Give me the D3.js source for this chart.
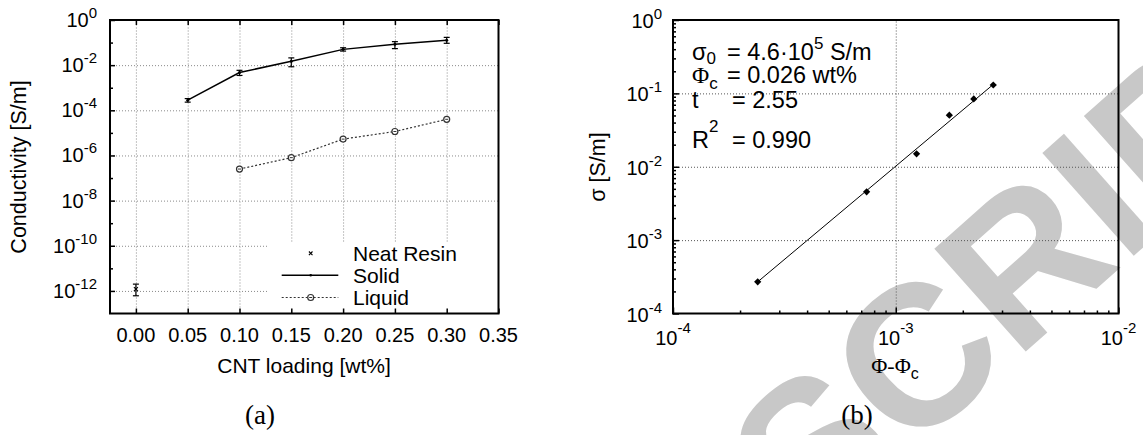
<!DOCTYPE html>
<html>
<head>
<meta charset="utf-8">
<script src="https://cdn.jsdelivr.net/npm/d3@7"></script>
<style>
  body { margin: 0; background: #fff; }
  svg text { font-family: "Liberation Sans", Arial, sans-serif; fill: #000; }
  .gridA line { stroke: #8a8a8a; stroke-dasharray: 1,2; }
  .gridB line { stroke: #555; stroke-dasharray: 1,2; }
  .grid path, .ticks path { display: none; }
  .ticks line { stroke: #000; stroke-width: 1.5; }
</style>
</head>
<body>
<svg id="fig" width="1143" height="435"></svg>
<script>
// ---- (a) conductivity vs CNT loading ----
var solidLoading = [0.05, 0.10, 0.15, 0.20, 0.25, 0.30];
var solidVal = [2.8e-4, 4.7e-3, 1.5e-2, 5.0e-2, 8.5e-2, 1.27e-1];
var solidLo  = [2.3e-4, 3.5e-3, 8.5e-3, 4.2e-2, 5.4e-2, 9.3e-2];
var solidHi  = [3.3e-4, 5.9e-3, 2.1e-2, 5.9e-2, 1.1e-1, 1.7e-1];

var liquidLoading = [0.10, 0.15, 0.20, 0.25, 0.30];
var liquidVal = [2.5e-7, 8.0e-7, 5.3e-6, 1.15e-5, 4.0e-5];

var neatLoading = [0.00];
var neatVal = [1.2e-12];
var neatLo = [6.1e-13];
var neatHi = [2.0e-12];

var xTicksA = [0.00, 0.05, 0.10, 0.15, 0.20, 0.25, 0.30, 0.35];
var yExpA = [0, -2, -4, -6, -8, -10, -12];
var yMinorExpA = [-1, -3, -5, -7, -9, -11];
var legendA = ["Neat Resin", "Solid", "Liquid"];

// ---- (b) percolation fit ----
var phiDiff = [2.4e-4, 7.4e-4, 1.24e-3, 1.74e-3, 2.24e-3, 2.74e-3];
var sigmaB  = [2.7e-4, 4.55e-3, 1.5e-2, 5.05e-2, 8.4e-2, 1.3e-1];
var fitX = [2.4e-4, 2.68e-3];
var fitY = [2.7e-4, 1.25e-1];
var xExpB = [-4, -3, -2];
var yExpB = [0, -1, -2, -3, -4];

var svg = d3.select("#fig");

// watermark behind everything
svg.append("text")
  .attr("transform", "translate(808,545) rotate(-41.6)")
  .attr("font-size", 200)
  .attr("font-weight", "bold")
  .style("fill", "#c8c8c8")
  .text("SCRIPT");

// helper: "10" with superscript exponent
function powLabel(g, x, y, exp, anchor, size, supSize, supDy) {
  var t = g.append("text")
    .attr("x", x).attr("y", y)
    .attr("text-anchor", anchor)
    .attr("font-size", size)
    .text("10");
  t.append("tspan")
    .attr("dy", supDy)
    .attr("font-size", supSize)
    .text(String(exp));
  return t;
}

// ================= panel (a) =================
var xA = d3.scaleLinear().domain([-0.025, 0.35]).range([110, 498.5]);
var yA = d3.scaleLog().domain([1e-13, 1]).range([313.5, 20]);
var gA = svg.append("g");

// grid
gA.append("g").attr("class", "grid gridA")
  .attr("transform", "translate(0,313.5)")
  .call(d3.axisBottom(xA).tickValues(xTicksA.slice(0, -1)).tickSize(-293.5).tickFormat(""));
gA.append("g").attr("class", "grid gridA")
  .attr("transform", "translate(110,0)")
  .call(d3.axisLeft(yA).tickValues(yExpA.slice(1).map(e => Math.pow(10, e))).tickSize(-388.5).tickFormat(""));

// legend box covers the grid
gA.append("rect")
  .attr("x", 268).attr("y", 243)
  .attr("width", 230).attr("height", 70)
  .attr("fill", "#fff");

var lineA = d3.line().x(d => xA(d[0])).y(d => yA(d[1]));

// liquid
var liquidData = liquidLoading.map((v, i) => [v, liquidVal[i]]);
gA.append("path")
  .datum(liquidData)
  .attr("d", lineA)
  .attr("fill", "none")
  .attr("stroke", "#333")
  .attr("stroke-width", 1.2)
  .attr("stroke-dasharray", "2,2");

function liquidMarker(g, cx, cy) {
  g.append("circle")
    .attr("cx", cx).attr("cy", cy).attr("r", 3)
    .attr("fill", "#fff").attr("stroke", "#333").attr("stroke-width", 1.2);
  g.append("line")
    .attr("x1", cx - 1.5).attr("x2", cx + 1.5)
    .attr("y1", cy).attr("y2", cy)
    .attr("stroke", "#333").attr("stroke-width", 1);
}
liquidData.forEach(d => liquidMarker(gA, xA(d[0]), yA(d[1])));

// solid
var solidData = solidLoading.map((v, i) => [v, solidVal[i]]);
gA.append("path")
  .datum(solidData)
  .attr("d", lineA)
  .attr("fill", "none")
  .attr("stroke", "#000")
  .attr("stroke-width", 1.5);

function errBar(g, x, lo, hi) {
  g.append("line").attr("x1", x).attr("x2", x).attr("y1", lo).attr("y2", hi)
    .attr("stroke", "#000").attr("stroke-width", 1.2);
  [lo, hi].forEach(y => {
    g.append("line").attr("x1", x - 3).attr("x2", x + 3).attr("y1", y).attr("y2", y)
      .attr("stroke", "#000").attr("stroke-width", 1.2);
  });
}
solidLoading.forEach((v, i) => {
  errBar(gA, xA(v), yA(solidLo[i]), yA(solidHi[i]));
  gA.append("circle").attr("cx", xA(v)).attr("cy", yA(solidVal[i])).attr("r", 1.5).attr("fill", "#000");
});

// neat resin
function crossMark(g, cx, cy, s) {
  g.append("path")
    .attr("d", `M${cx - s},${cy - s}L${cx + s},${cy + s}M${cx - s},${cy + s}L${cx + s},${cy - s}`)
    .attr("stroke", "#000").attr("stroke-width", 1.1);
}
neatLoading.forEach((v, i) => {
  errBar(gA, xA(v), yA(neatLo[i]), yA(neatHi[i]));
  crossMark(gA, xA(v), yA(neatVal[i]), 2);
});

// legend entries
var legY = [253.3, 275.3, 297.5];
legendA.forEach((name, i) => {
  gA.append("text").attr("x", 353).attr("y", legY[i] + 7.5)
    .attr("font-size", 21).text(name);
});
crossMark(gA, 310.7, legY[0], 1.8);
gA.append("line").attr("x1", 281.7).attr("x2", 338.3).attr("y1", legY[1]).attr("y2", legY[1])
  .attr("stroke", "#000").attr("stroke-width", 1.5);
gA.append("circle").attr("cx", 310.7).attr("cy", legY[1]).attr("r", 1.3).attr("fill", "#000");
gA.append("line").attr("x1", 281.7).attr("x2", 338.3).attr("y1", legY[2]).attr("y2", legY[2])
  .attr("stroke", "#333").attr("stroke-width", 1.2).attr("stroke-dasharray", "2,2");
liquidMarker(gA, 310.7, legY[2]);

// frame
gA.append("rect")
  .attr("x", 110).attr("y", 20)
  .attr("width", 388.5).attr("height", 293.5)
  .attr("fill", "none").attr("stroke", "#000").attr("stroke-width", 2);

// ticks (inward)
gA.append("g").attr("class", "ticks")
  .attr("transform", "translate(0,313.5)")
  .call(d3.axisBottom(xA).tickValues(xTicksA).tickSizeInner(-5).tickSizeOuter(0).tickFormat(""));
gA.append("g").attr("class", "ticks")
  .attr("transform", "translate(0,20)")
  .call(d3.axisTop(xA).tickValues(xTicksA).tickSizeInner(-5).tickSizeOuter(0).tickFormat(""));
gA.append("g").attr("class", "ticks")
  .attr("transform", "translate(110,0)")
  .call(d3.axisLeft(yA).tickValues(yExpA.map(e => Math.pow(10, e))).tickSizeInner(-5).tickSizeOuter(0).tickFormat(""));
gA.append("g").attr("class", "ticks")
  .attr("transform", "translate(110,0)")
  .call(d3.axisLeft(yA).tickValues(yMinorExpA.map(e => Math.pow(10, e))).tickSizeInner(-3).tickSizeOuter(0).tickFormat(""));

// tick labels
xTicksA.forEach(v => {
  gA.append("text").attr("x", xA(v)).attr("y", 342)
    .attr("text-anchor", "middle").attr("font-size", 20)
    .text(d3.format(".2f")(v));
});
yExpA.forEach(e => {
  powLabel(gA, 97, yA(Math.pow(10, e)) + 7, e, "end", 20, 15, -9);
});

// axis titles
gA.append("text").attr("x", 304).attr("y", 373)
  .attr("text-anchor", "middle").attr("font-size", 21)
  .text("CNT loading [wt%]");
gA.append("text").attr("transform", "translate(26,167) rotate(-90)")
  .attr("text-anchor", "middle").attr("font-size", 21.5)
  .text("Conductivity [S/m]");
gA.append("text").attr("x", 260).attr("y", 424)
  .attr("text-anchor", "middle").attr("font-size", 27)
  .style("font-family", "'Liberation Serif', serif")
  .text("(a)");

// ================= panel (b) =================
var xB = d3.scaleLog().domain([1e-4, 1e-2]).range([673, 1118.5]);
var yB = d3.scaleLog().domain([1e-4, 1]).range([313.5, 20]);
var gB = svg.append("g");

gB.append("g").attr("class", "grid gridB")
  .attr("transform", "translate(0,313.5)")
  .call(d3.axisBottom(xB).tickValues([1e-3]).tickSize(-293.5).tickFormat(""));
gB.append("g").attr("class", "grid gridB")
  .attr("transform", "translate(673,0)")
  .call(d3.axisLeft(yB).tickValues([1e-1, 1e-2, 1e-3]).tickSize(-445.5).tickFormat(""));

// fit line
gB.append("path")
  .datum(fitX.map((v, i) => [v, fitY[i]]))
  .attr("d", d3.line().x(d => xB(d[0])).y(d => yB(d[1])))
  .attr("fill", "none").attr("stroke", "#000").attr("stroke-width", 1);

// data points (filled diamonds)
var diamond = d3.symbol().type(d3.symbolSquare).size(26);
gB.selectAll(".pt")
  .data(phiDiff.map((v, i) => [v, sigmaB[i]]))
  .enter().append("path")
  .attr("class", "pt")
  .attr("d", diamond)
  .attr("transform", d => `translate(${xB(d[0])},${yB(d[1])}) rotate(45)`)
  .attr("fill", "#000");

// frame
gB.append("rect")
  .attr("x", 673).attr("y", 20)
  .attr("width", 445.5).attr("height", 293.5)
  .attr("fill", "none").attr("stroke", "#000").attr("stroke-width", 2);

// ticks: majors and minors
function minorTicks(lo, hi) {
  var out = [];
  for (var e = lo; e < hi; e++) {
    for (var m = 2; m <= 9; m++) out.push(m * Math.pow(10, e));
  }
  return out;
}
gB.append("g").attr("class", "ticks")
  .attr("transform", "translate(0,313.5)")
  .call(d3.axisBottom(xB).tickValues(xExpB.map(e => Math.pow(10, e))).tickSizeInner(-6).tickSizeOuter(0).tickFormat(""));
gB.append("g").attr("class", "ticks")
  .attr("transform", "translate(0,313.5)")
  .call(d3.axisBottom(xB).tickValues(minorTicks(-4, -2)).tickSizeInner(-3).tickSizeOuter(0).tickFormat(""));
gB.append("g").attr("class", "ticks")
  .attr("transform", "translate(673,0)")
  .call(d3.axisLeft(yB).tickValues(yExpB.map(e => Math.pow(10, e))).tickSizeInner(-6).tickSizeOuter(0).tickFormat(""));
gB.append("g").attr("class", "ticks")
  .attr("transform", "translate(673,0)")
  .call(d3.axisLeft(yB).tickValues(minorTicks(-4, 0)).tickSizeInner(-3).tickSizeOuter(0).tickFormat(""));

// tick labels
xExpB.forEach(e => {
  powLabel(gB, xB(Math.pow(10, e)), 345, e, "middle", 20, 15, -12);
});
yExpB.forEach(e => {
  powLabel(gB, 662, yB(Math.pow(10, e)) + 8, e, "end", 20, 15, -9);
});

// axis titles
var xt = gB.append("text").attr("x", 895).attr("y", 373)
  .attr("text-anchor", "middle").attr("font-size", 22);
xt.append("tspan").style("font-family", "'Liberation Serif', serif").text("\u03A6-\u03A6");
xt.append("tspan").attr("dy", 6).attr("font-size", 16).text("c");

gB.append("text").attr("transform", "translate(605,167) rotate(-90)")
  .attr("text-anchor", "middle").attr("font-size", 21.5)
  .text("\u03C3 [S/m]");

gB.append("text").attr("x", 857).attr("y", 424)
  .attr("text-anchor", "middle").attr("font-size", 27)
  .style("font-family", "'Liberation Serif', serif")
  .text("(b)");

// fit parameters
var ann = gB.append("g").attr("font-size", 23.5);
var l1 = ann.append("text").attr("x", 692).attr("y", 60);
l1.append("tspan").text("\u03C3");
l1.append("tspan").attr("dy", 4).attr("font-size", 17).text("0");
l1.append("tspan").attr("x", 727).attr("dy", -4).text("= 4.6\u00B710");
l1.append("tspan").attr("dy", -11).attr("font-size", 17).text("5");
l1.append("tspan").attr("dy", 11).text(" S/m");

var l2 = ann.append("text").attr("x", 692).attr("y", 83);
l2.append("tspan").style("font-family", "'Liberation Serif', serif").text("\u03A6");
l2.append("tspan").attr("dy", 6).attr("font-size", 17).text("c");
l2.append("tspan").attr("x", 727).attr("dy", -6).text("= 0.026 wt%");

var l3 = ann.append("text").attr("x", 692).attr("y", 108);
l3.append("tspan").text("t");
l3.append("tspan").attr("x", 732).text("= 2.55");

var l4 = ann.append("text").attr("x", 692).attr("y", 148);
l4.append("tspan").text("R");
l4.append("tspan").attr("dy", -16).attr("font-size", 17).text("2");
l4.append("tspan").attr("x", 732).attr("dy", 16).text("= 0.990");
</script>
</body>
</html>
